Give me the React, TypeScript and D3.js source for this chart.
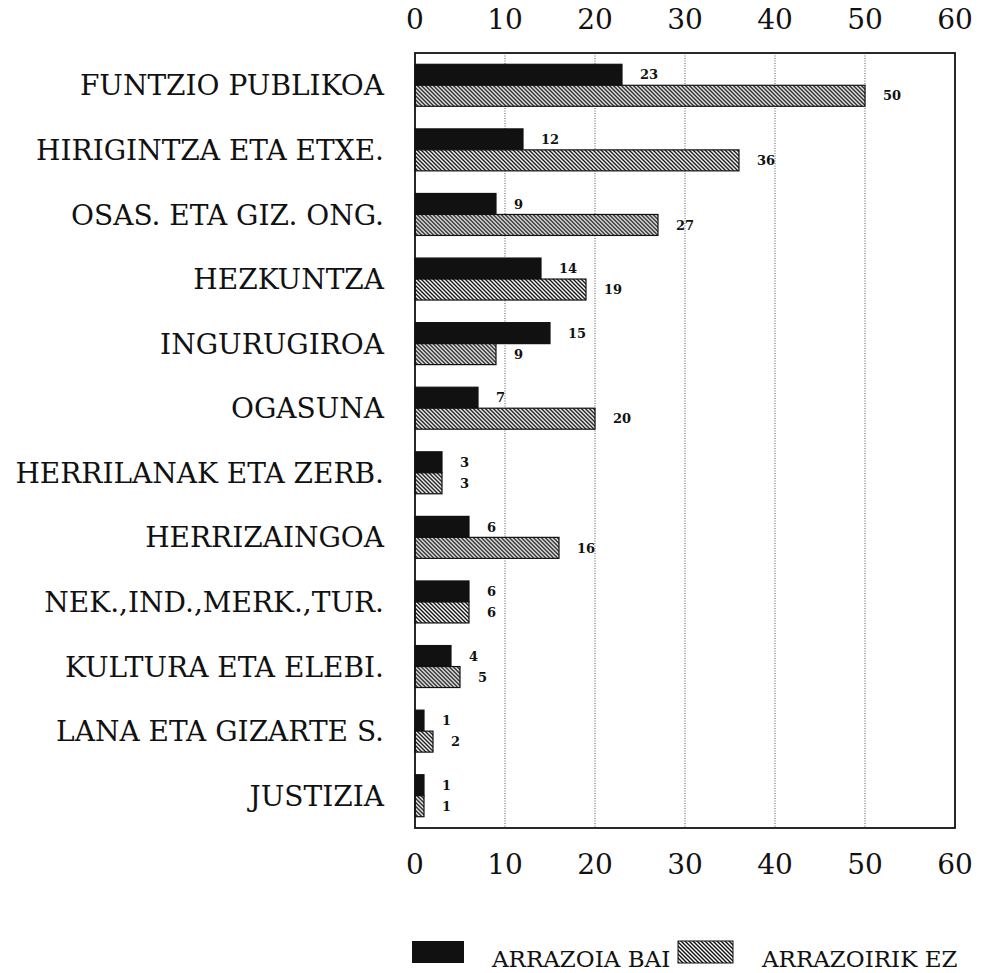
import React from "react";
import * as d3 from "d3";

const categories = [
  "FUNTZIO PUBLIKOA",
  "HIRIGINTZA ETA ETXE.",
  "OSAS. ETA GIZ. ONG.",
  "HEZKUNTZA",
  "INGURUGIROA",
  "OGASUNA",
  "HERRILANAK ETA ZERB.",
  "HERRIZAINGOA",
  "NEK.,IND.,MERK.,TUR.",
  "KULTURA ETA ELEBI.",
  "LANA ETA GIZARTE S.",
  "JUSTIZIA",
];
const arrazoiaBai = [23, 12, 9, 14, 15, 7, 3, 6, 6, 4, 1, 1];
const arrazoirikEz = [50, 36, 27, 19, 9, 20, 3, 16, 6, 5, 2, 1];
const seriesNames = ["ARRAZOIA BAI", "ARRAZOIRIK EZ"];
const xTicks = [0, 10, 20, 30, 40, 50, 60];

export default function App() {
  const W = 983;
  const H = 973;
  const left = 415;
  const right = 955;
  const top = 53;
  const bottom = 828;

  const x = d3.scaleLinear().domain([0, 60]).range([left, right]);
  const y = d3
    .scaleBand<string>()
    .domain(categories)
    .range([top, bottom])
    .paddingInner(0.35)
    .paddingOuter(0.175);
  const sub = d3
    .scaleBand<string>()
    .domain(seriesNames)
    .range([0, y.bandwidth()]);

  const serif = "'DejaVu Serif', serif";
  const valFont = "'DejaVu Serif', serif";

  const series = [arrazoiaBai, arrazoirikEz];

  return (
    <svg
      width={W}
      height={H}
      style={{ position: "absolute", left: 0, top: 0, background: "#fff" }}
    >
      <defs>
        <pattern
          id="hatch"
          patternUnits="userSpaceOnUse"
          width={4}
          height={4}
        >
          <rect width={4} height={4} fill="#fff" />
          <path
            d="M0,0 L4,4 M-1,3 L1,5 M3,-1 L5,1"
            stroke="#111"
            strokeWidth={1.4}
          />
        </pattern>
      </defs>

      {/* gridlines */}
      {xTicks.slice(1, -1).map((t) => (
        <line
          key={t}
          x1={x(t)}
          x2={x(t)}
          y1={top}
          y2={bottom}
          stroke="#555"
          strokeWidth={1}
          strokeDasharray="1,1.5"
        />
      ))}

      {/* bars */}
      {categories.map((c, i) => (
        <g key={c} transform={`translate(0,${y(c)})`}>
          {series.map((vals, si) => {
            const v = vals[i];
            const yy = sub(seriesNames[si])!;
            return (
              <g key={si}>
                <rect
                  x={x(0)}
                  y={yy}
                  width={x(v) - x(0)}
                  height={sub.bandwidth()}
                  fill={si === 0 ? "#111" : "url(#hatch)"}
                  stroke="#111"
                  strokeWidth={1.2}
                />
                <text
                  x={x(v) + 18}
                  y={yy + sub.bandwidth() / 2}
                  dy="0.36em"
                  fontFamily={valFont}
                  fontWeight="bold"
                  fontSize={13}
                  fill="#111"
                >
                  {v}
                </text>
              </g>
            );
          })}
          <text
            x={left - 31}
            y={y.bandwidth() / 2}
            dy="0.36em"
            textAnchor="end"
            fontFamily={serif}
            fontSize={28}
            fill="#111"
          >
            {c}
          </text>
        </g>
      ))}

      {/* frame */}
      <rect
        x={left}
        y={top}
        width={right - left}
        height={bottom - top}
        fill="none"
        stroke="#111"
        strokeWidth={1.8}
      />

      {/* tick labels */}
      {xTicks.map((t) => (
        <g key={t}>
          <text
            x={x(t)}
            y={29}
            textAnchor="middle"
            fontFamily={serif}
            fontSize={28}
            fill="#111"
          >
            {t}
          </text>
          <text
            x={x(t)}
            y={874}
            textAnchor="middle"
            fontFamily={serif}
            fontSize={28}
            fill="#111"
          >
            {t}
          </text>
        </g>
      ))}

      {/* legend */}
      <rect x={412} y={941} width={52} height={22} fill="#111" />
      <text x={492} y={967} fontFamily={serif} fontSize={23} fill="#111">
        {seriesNames[0]}
      </text>
      <rect
        x={678}
        y={941}
        width={55}
        height={22}
        fill="url(#hatch)"
        stroke="#111"
        strokeWidth={1}
      />
      <text x={762} y={967} fontFamily={serif} fontSize={23} fill="#111">
        {seriesNames[1]}
      </text>
    </svg>
  );
}
